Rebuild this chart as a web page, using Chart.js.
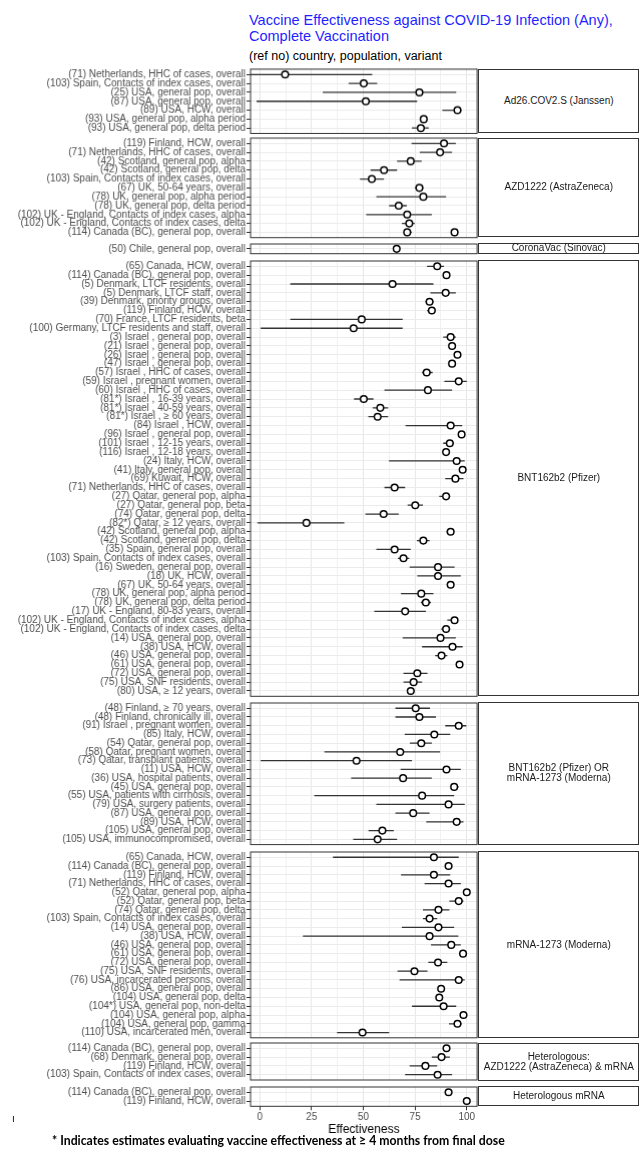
<!DOCTYPE html>
<html><head><meta charset="utf-8">
<script src="https://cdn.jsdelivr.net/npm/chart.js@4.4.1/dist/chart.umd.min.js"></script>
<style>
html,body{margin:0;padding:0;background:#fff;}
body{width:643px;height:1152px;position:relative;overflow:hidden;font-family:"Liberation Sans",Arial,sans-serif;}
.title{position:absolute;left:249px;top:13px;color:#1f1fff;font-size:14.5px;line-height:15.6px;white-space:nowrap;}
.subtitle{position:absolute;left:249px;top:49px;font-size:12.5px;color:#000;white-space:nowrap;}
.strip{position:absolute;box-sizing:border-box;border:1px solid #333;background:#fff;display:flex;align-items:center;justify-content:center;text-align:center;font-size:10px;color:#1a1a1a;line-height:10px;white-space:nowrap;}
.panel{position:absolute;left:0;}
.panel canvas{display:block;}
.foot{position:absolute;left:52px;top:1133px;font-family:Lato,"Open Sans",sans-serif;font-weight:bold;color:#000;white-space:nowrap;}
.mark{position:absolute;left:12px;top:1113px;font-size:10px;color:#000;}
</style></head><body>
<div class="title">Vaccine Effectiveness against COVID-19 Infection (Any),<br>Complete Vaccination</div>
<div class="subtitle">(ref no) country, population, variant</div>
<div id="root"></div>
<div class="mark">ı</div>
<div class="foot" id="foot">* Indicates estimates evaluating vaccine effectiveness at ≥ 4 months from final dose</div>
<script>
// ---------------- DATA ----------------
const panelNames = ["Ad26.COV2.S (Janssen)", "AZD1222 (AstraZeneca)", "CoronaVac (Sinovac)", "BNT162b2 (Pfizer)",
  "BNT162b2 (Pfizer) OR\nmRNA-1273 (Moderna)", "mRNA-1273 (Moderna)", "Heterologous:\nAZD1222 (AstraZeneca) & mRNA", "Heterologous mRNA"];

const janssenLabels = ["(71) Netherlands, HHC of cases, overall","(103) Spain, Contacts of index cases, overall","(25) USA, general pop, overall","(87) USA, general pop, overall","(89) USA, HCW, overall","(93) USA, general pop, alpha period","(93) USA, general pop, delta period"];
const janssenEst  = [12.2, 50.2, 77.1, 51.2, 95.5, 79.2, 77.8];
const janssenLow  = [-5.0, 42.9, 30.4, -1.6, 88.2, 77.6, 73.5];
const janssenHigh = [54.3, 56.7, 94.9, 76.0, 97.5, 80.8, 81.6];

const azLabels = ["(119) Finland, HCW, overall","(71) Netherlands, HHC of cases, overall","(42) Scotland, general pop, alpha","(42) Scotland, general pop, delta","(103) Spain, Contacts of index cases, overall","(67) UK, 50-64 years, overall","(78) UK, general pop, alpha period","(78) UK, general pop, delta period","(102) UK - England, Contacts of index cases, alpha","(102) UK - England, Contacts of index cases, delta","(114) Canada (BC), general pop, overall"];
const azEst  = [89.0, 87.1, 72.9, 60.0, 54.1, 77.1, 79.0, 67.1, 71.2, 72.2, 94.1];
const azLow  = [73.3, 77.3, 66.3, 53.5, 48.4, 74.9, 56.3, 62.5, 51.4, 68.6, 92.8];
const azHigh = [94.7, 92.9, 78.2, 66.3, 60.0, 79.0, 90.0, 71.0, 83.1, 74.9, 95.3];
// second (overlapping) estimate printed on the Canada (BC) row of the reference
const azOverlapLabel = "(114) Canada (BC), general pop, overall";
const azOverlapEst = [71.2], azOverlapLow = [69.8], azOverlapHigh = [73.4];

const sinovacLabels = ["(50) Chile, general pop, overall"];
const sinovacEst = [66.1], sinovacLow = [64.6], sinovacHigh = [67.6];

const pfizerLabels = ["(65) Canada, HCW, overall","(114) Canada (BC), general pop, overall","(5) Denmark, LTCF residents, overall","(5) Denmark, LTCF staff, overall","(39) Denmark, priority groups, overall","(119) Finland, HCW, overall","(70) France, LTCF residents, beta","(100) Germany, LTCF residents and staff, overall","(3) Israel , general pop, overall","(21) Israel , general pop, overall","(26) Israel , general pop, overall","(47) Israel , general pop, overall","(57) Israel , HHC of cases, overall","(59) Israel , pregnant women, overall","(60) Israel , HHC of cases, overall","(81*) Israel , 16-39 years, overall","(81*) Israel , 40-59 years, overall","(81*) Israel , ≥ 60 years, overall","(84) Israel , HCW, overall","(96) Israel , general pop, overall","(101) Israel , 12-15 years, overall","(116) Israel , 12-18 years, overall","(24) Italy, HCW, overall","(41) Italy, general pop, overall","(69) Kuwait, HCW, overall","(71) Netherlands, HHC of cases, overall","(27) Qatar, general pop, alpha","(27) Qatar, general pop, beta","(74) Qatar, general pop, delta","(82*) Qatar, ≥ 12 years, overall","(42) Scotland, general pop, alpha","(42) Scotland, general pop, delta","(35) Spain, general pop, overall","(103) Spain, Contacts of index cases, overall","(16) Sweden, general pop, overall","(18) UK, HCW, overall","(67) UK, 50-64 years, overall","(78) UK, general pop, alpha period","(78) UK, general pop, delta period","(17) UK - England, 80-83 years, overall","(102) UK - England, Contacts of index cases, alpha","(102) UK - England, Contacts of index cases, delta","(14) USA, general pop, overall","(38) USA, HCW, overall","(46) USA, general pop, overall","(61) USA, general pop, overall","(72) USA, general pop, overall","(75) USA, SNF residents, overall","(80) USA, ≥ 12 years, overall"];
const pfizerEst  = [85.7, 90.2, 64.1, 89.8, 82.0, 83.1, 49.2, 45.3, 92.2, 92.9, 95.5, 92.9, 80.6, 96.1, 81.2, 50.2, 58.2, 56.9, 92.2, 97.5, 91.8, 90.0, 95.1, 98.0, 94.5, 65.1, 90.0, 75.1, 59.8, 22.5, 92.2, 79.0, 65.1, 69.4, 86.1, 86.1, 92.2, 78.0, 80.2, 70.2, 94.1, 90.0, 87.3, 93.1, 87.8, 96.5, 76.1, 74.3, 72.9];
const pfizerLow  = [80.8, 89.2, 14.7, 82.4, 80.0, 80.8, 14.7,  0.4, 88.6, 91.9, 94.5, 91.9, 78.4, 89.2, 60.2, 45.5, 54.5, 52.4, 70.4, 97.0, 88.6, 88.6, 62.4, 97.5, 89.6, 60.2, 86.7, 71.4, 51.0, -1.2, 90.2, 75.9, 56.3, 66.7, 72.4, 76.1, 90.4, 68.2, 77.8, 55.3, 90.6, 87.6, 69.0, 78.4, 84.7, 95.8, 69.4, 69.4, 71.4];
const pfizerHigh = [89.0, 91.2, 83.9, 94.7, 83.9, 84.7, 69.0, 69.0, 94.7, 93.9, 96.3, 93.9, 83.5, 100.0, 92.9, 54.9, 62.0, 62.0, 97.8, 98.0, 93.7, 91.4, 99.0, 98.5, 98.4, 70.2, 92.0, 78.8, 67.1, 40.8, 93.7, 82.0, 72.9, 72.2, 94.1, 97.1, 93.5, 83.9, 82.7, 80.2, 95.5, 92.0, 94.7, 98.0, 90.6, 97.2, 81.0, 78.4, 74.9];

const pfizerOrModernaLabels = ["(48) Finland, ≥ 70 years, overall","(48) Finland, chronically ill, overall","(91) Israel , pregnant women, overall","(85) Italy, HCW, overall","(54) Qatar, general pop, overall","(58) Qatar, pregnant women, overall","(73) Qatar, transplant patients, overall","(11) USA, HCW, overall","(36) USA, hospital patients, overall","(45) USA, general pop, overall","(55) USA, patients with cirrhosis, overall","(79) USA, surgery patients, overall","(87) USA, general pop, overall","(89) USA, HCW, overall","(105) USA, general pop, overall","(105) USA, immunocompromised, overall"];
const pfizerOrModernaEst  = [75.3, 77.1, 96.1, 84.3, 78.0, 67.8, 46.7, 90.2, 69.2, 93.9, 78.4, 91.2, 74.1, 95.1, 59.2, 56.9];
const pfizerOrModernaLow  = [65.5, 65.5, 89.6, 70.0, 72.5, 31.2,  0.4, 68.0, 44.1, 92.2, 26.3, 56.3, 65.5, 80.4, 52.5, 45.1];
const pfizerOrModernaHigh = [82.2, 85.1, 99.8, 92.0, 83.1, 87.1, 73.5, 97.1, 83.1, 96.1, 93.9, 99.0, 82.0, 98.4, 64.7, 66.3];

const modernaLabels = ["(65) Canada, HCW, overall","(114) Canada (BC), general pop, overall","(119) Finland, HCW, overall","(71) Netherlands, HHC of cases, overall","(52) Qatar, general pop, alpha","(52) Qatar, general pop, beta","(74) Qatar, general pop, delta","(103) Spain, Contacts of index cases, overall","(14) USA, general pop, overall","(38) USA, HCW, overall","(46) USA, general pop, overall","(61) USA, general pop, overall","(72) USA, general pop, overall","(75) USA, SNF residents, overall","(76) USA, incarcerated persons, overall","(86) USA, general pop, overall","(104) USA, general pop, delta","(104*) USA, general pop, non-delta","(104) USA, general pop, alpha","(104) USA, general pop, gamma","(110) USA, incarcerated men, overall"];
const modernaEst  = [84.1, 91.2, 84.1, 91.2, 100.0, 96.1, 86.3, 82.0, 86.3, 82.0, 92.5, 98.2, 86.1, 74.7, 96.1, 87.6, 86.7, 88.8, 98.4, 95.5, 49.6];
const modernaLow  = [35.3, 89.4, 68.2, 79.6,  99.5, 91.6, 78.8, 78.8, 68.6, 20.8, 82.7, 97.6, 81.4, 66.5, 67.5, 87.0, 85.1, 73.5, 97.9, 91.4, 37.3];
const modernaHigh = [96.1, 92.5, 92.0, 97.1, 100.3, 98.4, 91.6, 85.7, 93.9, 95.9, 97.1, 98.8, 90.6, 81.0, 99.0, 88.2, 88.3, 94.9, 98.9, 97.5, 62.5];

const hetAzLabels = ["(114) Canada (BC), general pop, overall","(68) Denmark, general pop, overall","(119) Finland, HCW, overall","(103) Spain, Contacts of index cases, overall"];
const hetAzEst  = [90.2, 87.8, 80.0, 85.9];
const hetAzLow  = [88.6, 83.1, 72.4, 70.2];
const hetAzHigh = [91.8, 91.8, 85.7, 92.9];

const hetMrnaLabels = ["(114) Canada (BC), general pop, overall","(119) Finland, HCW, overall"];
const hetMrnaEst  = [91.2, 100.0];
const hetMrnaLow  = [89.4, 99.6];
const hetMrnaHigh = [92.5, 100.3];

const xTickValues = [0, 12.5, 25, 37.5, 50, 62.5, 75, 87.5, 100];
const xLabelledTicks = [0, 25, 50, 75, 100];
const xAxisTitle = "Effectiveness";

// ---------------- LAYOUT ----------------
const FONT = '"Liberation Sans", Arial, sans-serif';
const PANEL_TOP = [69, 138, 243.5, 260.7, 702.7, 851.7, 1043, 1086.7];
const PANEL_BOT = [132.5, 236.7, 253.2, 696, 844.3, 1037.5, 1080, 1106];
const PLOT_LEFT = 250, PLOT_RIGHT = 478.6, STRIP_RIGHT = 639;
const PAD = 10, AXIS_H = 30.5;

const panels = [
  {labels: janssenLabels, est: janssenEst, lo: janssenLow, hi: janssenHigh},
  {labels: azLabels, est: azEst, lo: azLow, hi: azHigh,
   extra: {row: azLabels.indexOf(azOverlapLabel), est: azOverlapEst, lo: azOverlapLow, hi: azOverlapHigh}},
  {labels: sinovacLabels, est: sinovacEst, lo: sinovacLow, hi: sinovacHigh},
  {labels: pfizerLabels, est: pfizerEst, lo: pfizerLow, hi: pfizerHigh},
  {labels: pfizerOrModernaLabels, est: pfizerOrModernaEst, lo: pfizerOrModernaLow, hi: pfizerOrModernaHigh},
  {labels: modernaLabels, est: modernaEst, lo: modernaLow, hi: modernaHigh},
  {labels: hetAzLabels, est: hetAzEst, lo: hetAzLow, hi: hetAzHigh},
  {labels: hetMrnaLabels, est: hetMrnaEst, lo: hetMrnaLow, hi: hetMrnaHigh}
];

const borderPlugin = {
  id: 'panelBorder',
  afterDraw(chart) {
    const {ctx, chartArea: a} = chart;
    ctx.save();
    ctx.strokeStyle = '#333333';
    ctx.lineWidth = 1;
    ctx.strokeRect(a.left, a.top, a.right - a.left, a.bottom - a.top);
    ctx.restore();
  }
};

const root = document.getElementById('root');

function segData(est, lo, hi, rows) {
  const out = [];
  est.forEach((_, i) => {
    const r = rows ? rows[i] : i;
    out.push({x: lo[i], y: r}, {x: hi[i], y: r}, {x: null, y: null});
  });
  return out;
}

panels.forEach((p, k) => {
  const isLast = k === panels.length - 1;
  const top = PANEL_TOP[k], bot = PANEL_BOT[k];
  const n = p.labels.length;
  const div = document.createElement('div');
  div.className = 'panel';
  const h = (bot - top) + PAD + (isLast ? AXIS_H : PAD);
  div.style.top = (top - PAD) + 'px';
  div.style.width = (PLOT_RIGHT + 3) + 'px';
  div.style.height = h + 'px';
  const cv = document.createElement('canvas');
  div.appendChild(cv);
  root.appendChild(div);

  // strip
  const s = document.createElement('div');
  s.className = 'strip';
  s.style.left = (PLOT_RIGHT - 0.5) + 'px';
  s.style.top = (top - 0.5) + 'px';
  s.style.width = (STRIP_RIGHT - PLOT_RIGHT + 1) + 'px';
  s.style.height = (bot - top + 1) + 'px';
  s.innerHTML = panelNames[k].replace('\n', '<br>');
  document.body.appendChild(s);

  const datasets = [
    {data: segData(p.est, p.lo, p.hi), showLine: true, spanGaps: false, pointRadius: 0, borderColor: '#333333', borderWidth: 1.3, order: 2, clip: 0},
    {data: p.est.map((v, i) => ({x: v, y: i})), showLine: false, pointRadius: 3.3, pointBorderWidth: 1.5,
     pointBackgroundColor: '#ffffff', pointBorderColor: '#000000', order: 0, clip: 4}
  ];
  if (p.extra) {
    const rows = p.extra.est.map(() => p.extra.row);
    datasets.push({data: segData(p.extra.est, p.extra.lo, p.extra.hi, rows), showLine: true, spanGaps: false, pointRadius: 0, borderColor: '#333333', borderWidth: 1.3, order: 3, clip: 0});
    datasets.push({data: p.extra.est.map(v => ({x: v, y: p.extra.row})), showLine: false, pointRadius: 3.3, pointBorderWidth: 1.5,
      pointBackgroundColor: '#ffffff', pointBorderColor: '#000000', order: 1, clip: 4});
  }

  new Chart(cv, {
    type: 'scatter',
    data: {datasets},
    plugins: [borderPlugin],
    options: {
      responsive: true, maintainAspectRatio: false, animation: false,
      layout: {padding: {top: PAD, bottom: isLast ? 0 : PAD, left: 0, right: 3}},
      plugins: {legend: {display: false}, tooltip: {enabled: false}},
      scales: {
        x: {
          type: 'linear', min: -4.5, max: 105,
          afterBuildTicks: sc => { sc.ticks = xTickValues.map(v => ({value: v})); },
          afterFit: sc => { sc.height = isLast ? AXIS_H : 0; sc.paddingLeft = 0; sc.paddingRight = 0; },
          ticks: {display: isLast, autoSkip: false, maxRotation: 0, padding: 1, color: '#4d4d4d',
                  font: {family: FONT, size: 10},
                  callback: v => xLabelledTicks.includes(v) ? String(v) : ''},
          grid: {
            color: c => (c.tick && xLabelledTicks.includes(c.tick.value)) ? '#e6e6e6' : '#f1f1f1',
            lineWidth: 1, drawTicks: isLast, tickLength: 4, tickWidth: 1,
            tickColor: c => (c.tick && xLabelledTicks.includes(c.tick.value)) ? '#333333' : 'rgba(0,0,0,0)'
          },
          border: {display: false},
          title: {display: isLast, text: xAxisTitle, color: '#000', font: {family: FONT, size: 12}, padding: 0}
        },
        y: {
          type: 'linear', reverse: true, min: -0.6, max: n - 0.4,
          afterBuildTicks: sc => { sc.ticks = p.labels.map((_, i) => ({value: i})); },
          afterFit: sc => { sc.width = PLOT_LEFT; sc.paddingTop = 0; sc.paddingBottom = 0; },
          ticks: {autoSkip: false, padding: 1, color: '#4d4d4d', font: {family: FONT, size: 10},
                  callback: v => p.labels[v]},
          grid: {color: '#ebebeb', lineWidth: 1, drawTicks: true, tickLength: 4, tickColor: '#333333', tickWidth: 1},
          border: {display: false}
        }
      }
    }
  });
});

// fit footnote width to reference
(function () {
  const f = document.getElementById('foot');
  f.style.fontSize = '12px';
  const w = f.getBoundingClientRect().width;
  f.style.fontSize = (12 * 453 / w) + 'px';
})();
</script>
</body></html>
